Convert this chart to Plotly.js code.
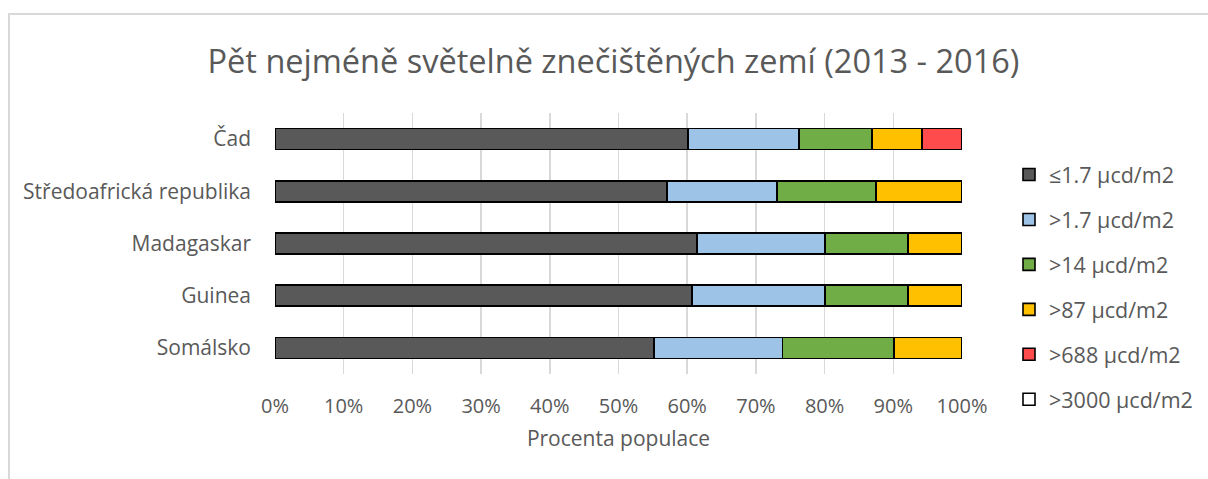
<!DOCTYPE html>
<html>
<head>
<meta charset="utf-8">
<script src="https://cdn.plot.ly/plotly-3.0.1.min.js"></script>
<style>
html,body{margin:0;padding:0;background:#fff;overflow:hidden;}
#frame{position:absolute;left:8px;top:13px;width:1400px;height:700px;border:2px solid #d9d9d9;box-sizing:border-box;}
#chart{position:absolute;left:0;top:0;width:1208px;height:479px;}
</style>
</head>
<body>
<div id="frame"></div>
<div id="chart"></div>
<script>
const countries = ["Čad", "Středoafrická republika", "Madagaskar", "Guinea", "Somálsko"];
const seriesNames = ["≤1.7 µcd/m2", ">1.7 µcd/m2", ">14 µcd/m2", ">87 µcd/m2", ">688 µcd/m2", ">3000 µcd/m2"];
const s_le1_7   = [60.1, 57.1, 61.4, 60.7, 55.2];
const s_gt1_7   = [16.2, 16.0, 18.7, 19.4, 18.7];
const s_gt14    = [10.6, 14.4, 12.0, 12.0, 16.2];
const s_gt87    = [7.3, 12.5, 7.9, 7.9, 9.9];
const s_gt688   = [5.8, 0, 0, 0, 0];
const s_gt3000  = [0, 0, 0, 0, 0];
const xTickVals = [0, 10, 20, 30, 40, 50, 60, 70, 80, 90, 100];
const xTickText = ["0%", "10%", "20%", "30%", "40%", "50%", "60%", "70%", "80%", "90%", "100%"];

const colors = ["#595959", "#9dc3e6", "#70ad47", "#ffc000", "#ff4b4b", "#ffffff"];
const allSeries = [s_le1_7, s_gt1_7, s_gt14, s_gt87, s_gt688, s_gt3000];

const font = "'Open Sans', 'Noto Sans', sans-serif";
const grey = "#595959";

const traces = allSeries.map((vals, i) => ({
  type: "bar",
  orientation: "h",
  name: seriesNames[i],
  y: countries,
  x: vals,
  legendgroup: "g" + i,
  marker: {color: colors[i], line: {color: "#000000", width: 1.6}},
  width: 0.4,
  hoverinfo: "x+name"
}));

const layout = {
  width: 1208, height: 479,
  paper_bgcolor: "rgba(0,0,0,0)",
  plot_bgcolor: "rgba(0,0,0,0)",
  barmode: "stack",
  margin: {l: 275, r: 246, t: 113, b: 105, autoexpand: false},
  font: {family: font, color: grey, size: 20},
  title: {
    text: "Pět nejméně světelně znečištěných zemí (2013 - 2016)",
    font: {family: font, size: 32.5, color: grey},
    x: (613.5 - 275) / 687, xanchor: "center", xref: "paper",
    y: 1 - 62/479, yanchor: "middle", yref: "container"
  },
  xaxis: {
    range: [0, 100],
    automargin: false,
    tickvals: xTickVals, ticktext: xTickText,
    showgrid: true, gridcolor: "#d9d9d9", gridwidth: 1.5,
    zeroline: false, showline: false, ticks: "",
    ticklabelstandoff: 18,
    tickfont: {size: 20, color: grey},
    title: {text: "Procenta populace", font: {size: 21, color: grey}, standoff: 13},
    fixedrange: true
  },
  yaxis: {
    autorange: "reversed",
    automargin: false,
    showgrid: false, zeroline: false, showline: false, ticks: "",
    ticklabelstandoff: 23,
    tickfont: {size: 21, color: grey},
    fixedrange: true
  },
  legend: {
    x: (1009 - 275) / 687, xanchor: "left",
    y: (374 - 154) / 261, yanchor: "top",
    traceorder: "grouped",
    tracegroupgap: 14,
    maxheight: 470,
    font: {size: 21.5, color: grey},
    itemwidth: 30,
    bgcolor: "rgba(0,0,0,0)"
  },
  showlegend: true
};

Plotly.newPlot("chart", traces, layout, {displayModeBar: false, staticPlot: true});
</script>
</body>
</html>
